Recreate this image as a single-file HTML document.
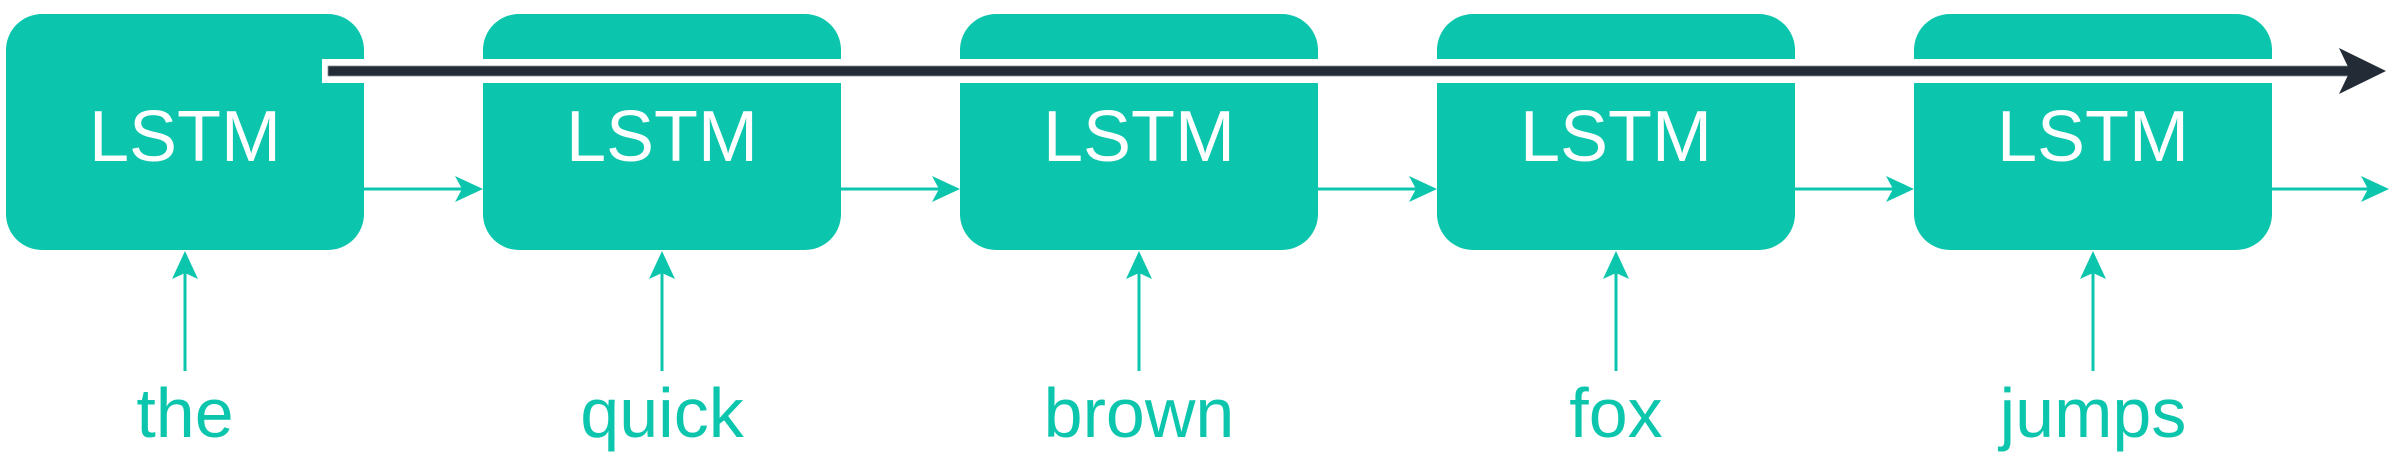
<!DOCTYPE html>
<html><head><meta charset="utf-8"><style>
html,body{margin:0;padding:0;background:#fff;}
svg{display:block;}
</style></head><body>
<svg width="2400" height="454" viewBox="0 0 2400 454" xmlns="http://www.w3.org/2000/svg">
<g fill="#0bc6ad">
<rect x="6" y="14" width="358" height="236" rx="36"/>
<rect x="483" y="14" width="358" height="236" rx="36"/>
<rect x="960" y="14" width="358" height="236" rx="36"/>
<rect x="1437" y="14" width="358" height="236" rx="36"/>
<rect x="1914" y="14" width="358" height="236" rx="36"/>
</g>
<rect x="322" y="59" width="2030" height="24" fill="#fff"/>
<rect x="328" y="66" width="2025" height="10" fill="#222b36" stroke="#8a9099" stroke-width="0.8"/>
<polygon points="2339,48 2386,71 2339,94 2350,71" fill="#222b36"/>
<g stroke="#0bc6ad" stroke-width="3" fill="none">
<line x1="364" y1="189" x2="476" y2="189"/>
<line x1="841" y1="189" x2="953" y2="189"/>
<line x1="1318" y1="189" x2="1430" y2="189"/>
<line x1="1795" y1="189" x2="1907" y2="189"/>
<line x1="2272" y1="189" x2="2382" y2="189"/>
<line x1="185" y1="371" x2="185" y2="262"/>
<line x1="662" y1="371" x2="662" y2="262"/>
<line x1="1139" y1="371" x2="1139" y2="262"/>
<line x1="1616" y1="371" x2="1616" y2="262"/>
<line x1="2093" y1="371" x2="2093" y2="262"/>
</g>
<g fill="#0bc6ad">
<polygon points="455,176 483,189 455,202 462,189"/>
<polygon points="932,176 960,189 932,202 939,189"/>
<polygon points="1409,176 1437,189 1409,202 1416,189"/>
<polygon points="1886,176 1914,189 1886,202 1893,189"/>
<polygon points="2361,176 2389,189 2361,202 2368,189"/>
<polygon points="172,279 185,251 198,279 185,273"/>
<polygon points="649,279 662,251 675,279 662,273"/>
<polygon points="1126,279 1139,251 1152,279 1139,273"/>
<polygon points="1603,279 1616,251 1629,279 1616,273"/>
<polygon points="2080,279 2093,251 2106,279 2093,273"/>
</g>
<g font-family="Liberation Sans, Arial, sans-serif" font-size="72" fill="#fff" text-anchor="middle">
<text x="185" y="161">LSTM</text>
<text x="662" y="161">LSTM</text>
<text x="1139" y="161">LSTM</text>
<text x="1616" y="161">LSTM</text>
<text x="2093" y="161">LSTM</text>
</g>
<g font-family="Liberation Sans, Arial, sans-serif" font-size="70" fill="#0bc6ad" text-anchor="middle">
<text x="185" y="437">the</text>
<text x="662" y="437">quick</text>
<text x="1139" y="437">brown</text>
<text x="1616" y="437">fox</text>
<text x="2093" y="437">jumps</text>
</g>
</svg>
</body></html>
